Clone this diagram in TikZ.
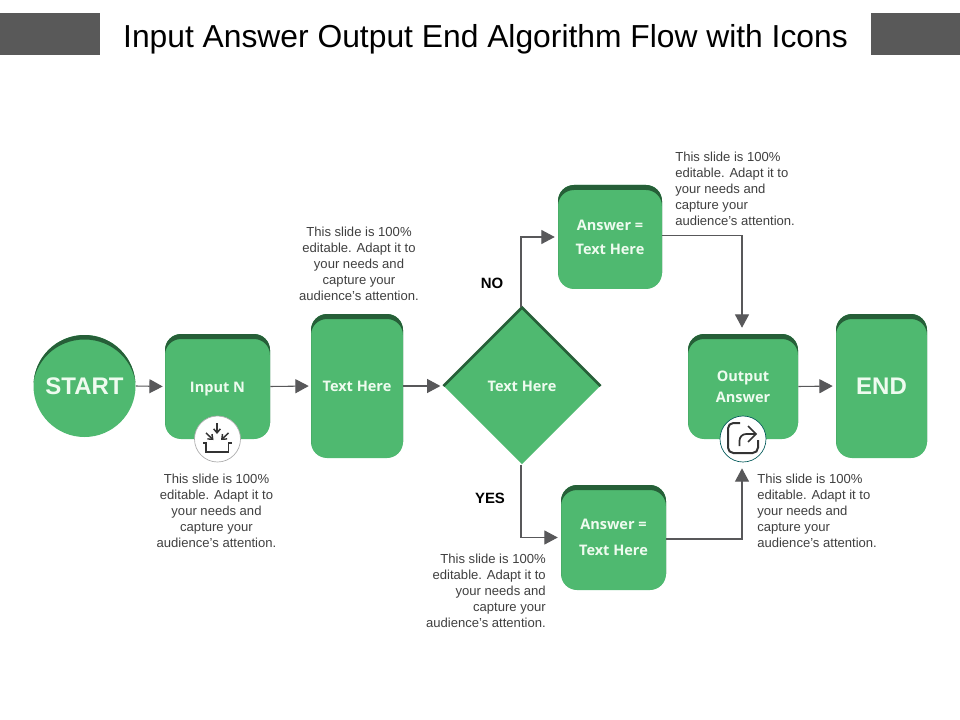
\documentclass[tikz,border=0pt]{standalone}
\usepackage{fontspec}
\setmainfont{Liberation Sans}
\newfontfamily\boxfont{Open Sans}
\usetikzlibrary{arrows.meta,shapes.geometric,calc}
\definecolor{gbody}{HTML}{4FB970}
\definecolor{gdark}{HTML}{265F38}
\definecolor{gline}{HTML}{58585A}
\definecolor{gbar}{HTML}{595959}
\definecolor{gtext}{HTML}{EEFBEF}
\definecolor{bodytext}{HTML}{404040}
\newcommand{\lowered}[1]{\smash{\raisebox{-4.3pt}{#1}}}
\tikzset{
  gbox/.style n args={2}{rectangle,rounded corners=12pt,fill=gbody,inner sep=0pt,
    minimum width=#1*0.75pt,minimum height=#2*0.75pt,text=gtext,align=center,
    font=\boxfont\bfseries\fontsize{10.9pt}{15.5pt}\selectfont,
    path picture={
      \fill[gdark,even odd rule,rounded corners=12pt]
        ($(path picture bounding box.north west)+(-4,-4)$) rectangle ($(path picture bounding box.south east)+(4,4)$)
        [sharp corners]
        ($(path picture bounding box.north west)+(0,5)$) [rounded corners=12pt] rectangle ($(path picture bounding box.south east)+(0,30)$);
    }},
  bigword/.style={font=\bfseries\fontsize{18pt}{20pt}\selectfont},
  conn/.style={draw=gline,line width=0.8pt,-{Triangle[length=10pt,width=10.5pt,fill=gline]},shorten >=#1*0.75pt},
  conn/.default=2,
  para/.style={text=bodytext,font=\fontsize{9.8pt}{12pt}\selectfont,inner sep=0pt},
  iconc/.style={circle,fill=white,draw=#1,line width=0.5pt,minimum size=34.5pt,inner sep=0pt},
  iconline/.style={draw=black!80,line width=1.1pt},
  lab/.style={font=\bfseries\fontsize{11.2pt}{12pt}\selectfont,text=black,inner sep=0pt},
}
\begin{document}
\begin{tikzpicture}[x=0.75pt,y=-0.75pt]
\useasboundingbox (0,0) rectangle (960,720);
\fill[white] (0,0) rectangle (960,720);
% header
\node[rectangle,fill=gbar,minimum width=75pt,minimum height=31.5pt,inner sep=0pt] (barL) at (50,34) {};
\node[rectangle,fill=gbar,minimum width=66.75pt,minimum height=31.5pt,inner sep=0pt] (barR) at (915.5,34) {};
\node[font=\fontsize{23.85pt}{28pt}\selectfont,text=black,inner sep=0pt] (title) at (485.5,39) {Input Answer Output End Algorithm Flow with Icons};
% start
\node[circle,fill=gbody,minimum size=76.5pt,inner sep=0pt,text=gtext,bigword,
  path picture={
    \fill[gdark,even odd rule] (path picture bounding box.center) circle[radius=56]
      ($(path picture bounding box.center)+(0,3.5)$) ellipse[x radius=51.5,y radius=50];
  }] (start) at (84.5,386) {START};
% boxes
\node[gbox={105}{105}] (input) at (217.5,386.5) {\lowered{Input N}};
\node[gbox={92}{144}] (text1) at (357,386) {\lowered{Text Here}};
\node[gbox={104}{104}] (ans1) at (610,237) {Answer =\\[2.6pt]Text Here};
\node[gbox={105}{105}] (ans2) at (613.5,537.5) {\raisebox{-0.8pt}{Answer =}\\[4pt]\raisebox{-0.8pt}{Text Here}};
\node[gbox={110}{105}] (output) at (743,386.5) {\raisebox{-0.8pt}{Output}\\[0pt]\raisebox{-0.8pt}{Answer}};
\node[gbox={91}{144},bigword,text=gtext] (endn) at (881.5,386) {END};
% diamond
\node[diamond,aspect=1,fill=gbody,minimum width=117.5pt,minimum height=117.5pt,inner sep=0pt,
  text=gtext,font=\boxfont\bfseries\fontsize{10.9pt}{14pt}\selectfont] (dec) at (522,386) {\lowered{Text Here}};
\draw[gdark,line width=2pt,line cap=butt,line join=miter] (dec.west) -- (dec.north) -- (dec.east);
% icons
\node[iconc=gline!50] (icoIn) at (217.5,439) {};
\node[iconc=teal!70!black] (icoOut) at (743,439) {};
\draw[iconline,-{Straight Barb[length=3pt,width=5pt]}] ($(icoIn)+(-0.5,-16)$) -- ($(icoIn)+(-0.5,-5)$);
\draw[iconline,-{Straight Barb[length=3pt,width=5pt]}] ($(icoIn)+(-11.5,-6)$) -- ($(icoIn)+(-4,1)$);
\draw[iconline,-{Straight Barb[length=3pt,width=5pt]}] ($(icoIn)+(11,-6)$) -- ($(icoIn)+(3.5,1)$);
\draw[iconline] ($(icoIn)+(-14.5,4)$) -- ($(icoIn)+(-11.5,4)$) -- ($(icoIn)+(-11.5,13)$) -- ($(icoIn)+(11,13)$) -- ($(icoIn)+(11,4)$) -- ($(icoIn)+(14.5,4)$);
\draw[iconline,line width=1.5pt,rounded corners=4pt] ($(icoOut)+(-3,-16)$) -- ($(icoOut)+(-15,-16)$) -- ($(icoOut)+(-15,14)$) -- ($(icoOut)+(15,14)$) -- ($(icoOut)+(15,1)$);
\draw[iconline,line width=1.3pt,rounded corners=5pt] ($(icoOut)+(-3.5,7)$) -- ($(icoOut)+(-3.5,-5)$) -- ($(icoOut)+(13,-5)$);
\draw[iconline,line width=1.3pt] ($(icoOut)+(5,-13)$) -- ($(icoOut)+(13,-5)$) -- ($(icoOut)+(5,3)$);
% connectors
\draw[conn] (start.east) -- (input.west);
\draw[conn] (input.east) -- (text1.west);
\draw[conn=3] (text1.east) -- (dec.west);
\draw[conn=3] ([xshift=-0.75pt]dec.north) |- (ans1.west);
\draw[conn=3] ([xshift=-0.75pt]dec.south) |- (ans2.west);
\draw[conn=6] ([yshift=1.1pt]ans1.east) -| ([xshift=-0.75pt]output.north);
\draw[conn=6] ([yshift=-1.1pt]ans2.east) -| ([xshift=-0.75pt]icoOut.south);
\draw[conn=3] (output.east) -- (endn.west);
% labels
\node[lab] (no) at (492,283) {NO};
\node[lab] (yes) at (490,498) {YES};
\node[para,align=center] (p1) at (216.5,510.8) {This slide is 100\%\\editable. Adapt it to\\your needs and\\capture your\\audience's attention.};
\node[para,align=center] (p2) at (359,263.8) {This slide is 100\%\\editable. Adapt it to\\your needs and\\capture your\\audience's attention.};
\node[para,align=left,anchor=west] (p3) at (675,189.3) {This slide is 100\%\\editable. Adapt it to\\your needs and\\capture your\\audience's attention.};
\node[para,align=right,anchor=east] (p4) at (546,590.8) {This slide is 100\%\\editable. Adapt it to\\your needs and\\capture your\\audience's attention.};
\node[para,align=left,anchor=west] (p5) at (757,510.8) {This slide is 100\%\\editable. Adapt it to\\your needs and\\capture your\\audience's attention.};
\end{tikzpicture}
\end{document}
